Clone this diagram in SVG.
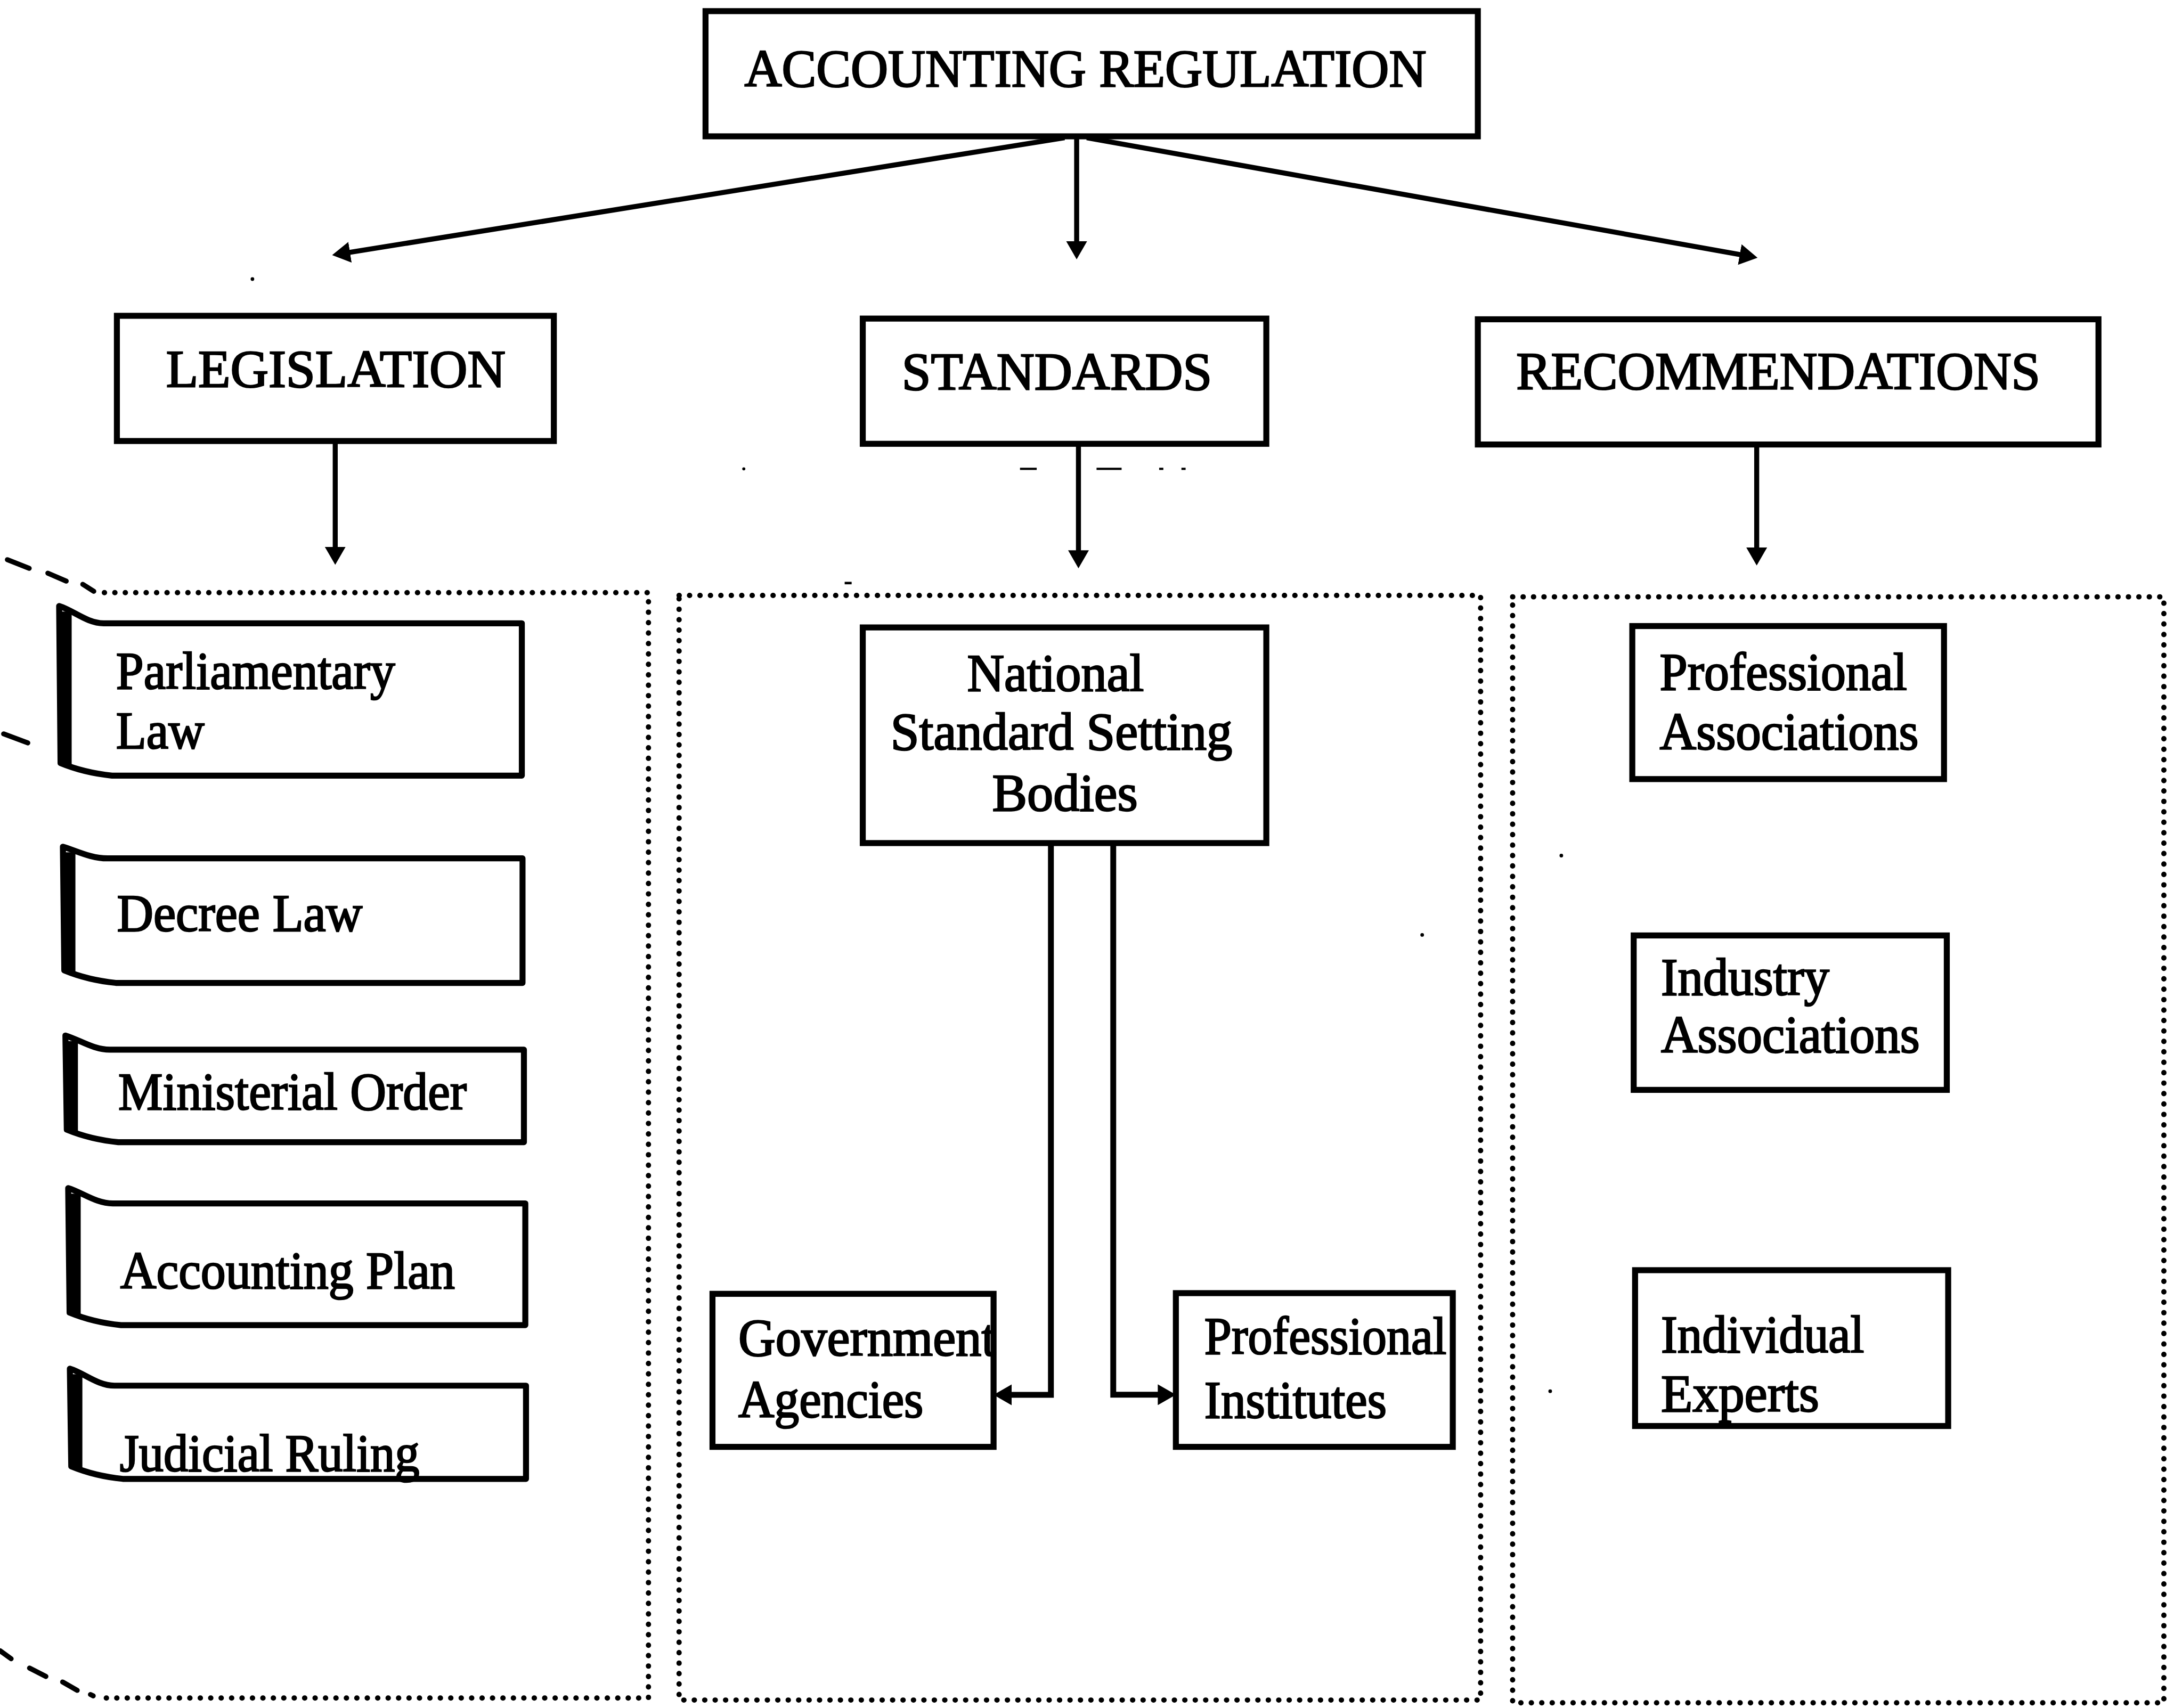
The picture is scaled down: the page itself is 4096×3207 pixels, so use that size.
<svg xmlns="http://www.w3.org/2000/svg" width="4096" height="3207" viewBox="0 0 4096 3207">
  <defs>
    <style>
      .box { fill: #fff; stroke: #000; stroke-width: 4.3; stroke-linejoin: miter; }
      .scroll { fill: #fff; stroke: #000; stroke-width: 4.3; stroke-linejoin: round; }
      .spine { fill: none; stroke: #000; stroke-width: 9; stroke-linecap: butt; }
      .lbl { font-family: "Liberation Serif", "Times New Roman", serif; font-size: 38px; fill: #000; stroke: #000; stroke-width: 1; }
      .conn { fill: none; stroke: #000; stroke-width: 3.6; }
      .elbow { fill: none; stroke: #000; stroke-width: 4.2; stroke-linejoin: miter; }
      .dots { fill: none; stroke: #000; stroke-width: 3.8; stroke-linecap: round; stroke-dasharray: 0.1 7.4; }
      .dash { fill: none; stroke: #000; stroke-width: 3.6; stroke-linecap: round; }
      .speck { fill: #000; }
    </style>
    <marker id="arrow" viewBox="0 0 13 15" markerWidth="13" markerHeight="15" refX="7" refY="7.5" orient="auto" markerUnits="userSpaceOnUse">
      <path d="M0,0 L13,7.5 L0,15 Z" fill="#000"/>
    </marker>
  </defs>

  <rect width="4096" height="3207" fill="#fff"/>

  <g transform="scale(2.6122)">

    <!-- dotted grouping frames -->
    <g id="frames">
      <path class="dots" d="M75,426 H466 V1220.5 H75"/>
      <rect class="dots" x="488" y="428" width="576" height="794"/>
      <rect class="dots" x="1087" y="429" width="468" height="795"/>
      <!-- curved fold of the left frame -->
      <line class="dash" x1="5.3" y1="402.3" x2="21" y2="408.5"/>
      <line class="dash" x1="34.4" y1="412" x2="47.6" y2="417.7"/>
      <line class="dash" x1="59.5" y1="420" x2="67.4" y2="425"/>
      <line class="dash" x1="2.6" y1="527.5" x2="20" y2="534"/>
      <line class="dash" x1="0" y1="1186.5" x2="8" y2="1192.3"/>
      <line class="dash" x1="21.2" y1="1199" x2="33" y2="1205"/>
      <line class="dash" x1="45" y1="1209" x2="55.5" y2="1215"/>
      <line class="dash" x1="65" y1="1218" x2="67" y2="1219"/>
    </g>

    <!-- connectors -->
    <g id="connectors">
      <path class="conn" d="M765,99 L244.6,182.45" marker-end="url(#arrow)"/>
      <path class="conn" d="M773.7,99 V180.4" marker-end="url(#arrow)"/>
      <path class="conn" d="M781,99 L1257.1,184.2" marker-end="url(#arrow)"/>
      <path class="conn" d="M240.9,317 V400" marker-end="url(#arrow)"/>
      <path class="conn" d="M775,320 V402.5" marker-end="url(#arrow)"/>
      <path class="conn" d="M1262.4,320 V400.5" marker-end="url(#arrow)"/>
      <path class="elbow" d="M755.2,606 V1002.6 H720" marker-end="url(#arrow)"/>
      <path class="elbow" d="M800,606 V1002.5 H839" marker-end="url(#arrow)"/>
    </g>

    <!-- top level -->
    <g id="accounting-regulation">
      <rect class="box" x="507" y="8" width="555" height="90"/>
      <text class="lbl" x="535" y="62" textLength="490" lengthAdjust="spacingAndGlyphs">ACCOUNTING REGULATION</text>
    </g>

    <!-- second level -->
    <g id="legislation">
      <rect class="box" x="84" y="227" width="314" height="90"/>
      <text class="lbl" x="119.3" y="278" textLength="244" lengthAdjust="spacingAndGlyphs">LEGISLATION</text>
    </g>
    <g id="standards">
      <rect class="box" x="620" y="229" width="290" height="90"/>
      <text class="lbl" x="648" y="280" textLength="223" lengthAdjust="spacingAndGlyphs">STANDARDS</text>
    </g>
    <g id="recommendations">
      <rect class="box" x="1062" y="229.5" width="446" height="90"/>
      <text class="lbl" x="1089.6" y="279.5" textLength="376.6" lengthAdjust="spacingAndGlyphs">RECOMMENDATIONS</text>
    </g>

    <!-- legislation sources (scroll shapes) -->
    <g id="parliamentary-law">
      <path class="scroll" d="M42.5,435.6 C52.5,438.6 62.5,448 74.5,448 H375 V557.5 H80.5 Q60.5,555.5 43.5,548.5 Z"/>
      <path class="spine" d="M47,439.6 V549.5"/>
      <text class="lbl" x="83.4" y="495" textLength="200.5" lengthAdjust="spacingAndGlyphs">Parliamentary</text>
      <text class="lbl" x="83.4" y="538" textLength="63.5" lengthAdjust="spacingAndGlyphs">Law</text>
    </g>
    <g id="decree-law">
      <path class="scroll" d="M45.2,608.6 C55.2,611.6 65.2,617 77.2,617 H375.5 V706.5 H83.2 Q63.2,704.5 46.2,697.5 Z"/>
      <path class="spine" d="M49.7,612.6 V698.5"/>
      <text class="lbl" x="84" y="669" textLength="176.4" lengthAdjust="spacingAndGlyphs">Decree Law</text>
    </g>
    <g id="ministerial-order">
      <path class="scroll" d="M47,744.3 C57,747.3 67,754.5 79,754.5 H376.5 V821 H85 Q65,819 48,812 Z"/>
      <path class="spine" d="M51.5,748.3 V813"/>
      <text class="lbl" x="85" y="797.4" textLength="250.4" lengthAdjust="spacingAndGlyphs">Ministerial Order</text>
    </g>
    <g id="accounting-plan">
      <path class="scroll" d="M49,854 C59,857 69,865 81,865 H377.5 V952.5 H87 Q67,950.5 50,943.5 Z"/>
      <path class="spine" d="M53.5,858 V944.5"/>
      <text class="lbl" x="86.4" y="926" textLength="240.5" lengthAdjust="spacingAndGlyphs">Accounting Plan</text>
    </g>
    <g id="judicial-ruling">
      <path class="scroll" d="M50.2,983.8 C60.2,986.8 70.2,996 82.2,996 H378 V1063 H88.2 Q68.2,1061 51.2,1054 Z"/>
      <path class="spine" d="M54.7,987.8 V1055"/>
      <text class="lbl" x="86" y="1057.5" textLength="215.5" lengthAdjust="spacingAndGlyphs">Judicial Ruling</text>
    </g>

    <!-- standard setters -->
    <g id="national-standard-setting-bodies">
      <rect class="box" x="620" y="451" width="290" height="155"/>
      <text class="lbl" x="695" y="496.6" textLength="127" lengthAdjust="spacingAndGlyphs">National</text>
      <text class="lbl" x="640" y="538.5" textLength="245.6" lengthAdjust="spacingAndGlyphs">Standard Setting</text>
      <text class="lbl" x="713" y="582.7" textLength="104.6" lengthAdjust="spacingAndGlyphs">Bodies</text>
    </g>
    <g id="government-agencies">
      <rect class="box" x="512" y="930" width="202" height="110"/>
      <text class="lbl" x="530.6" y="974.3" textLength="185" lengthAdjust="spacingAndGlyphs">Government</text>
      <text class="lbl" x="530.6" y="1018.7" textLength="133" lengthAdjust="spacingAndGlyphs">Agencies</text>
    </g>
    <g id="professional-institutes">
      <rect class="box" x="845" y="929.5" width="199" height="110.5"/>
      <text class="lbl" x="865.5" y="973" textLength="174" lengthAdjust="spacingAndGlyphs">Professional</text>
      <text class="lbl" x="865.5" y="1019" textLength="131" lengthAdjust="spacingAndGlyphs">Institutes</text>
    </g>

    <!-- recommending bodies -->
    <g id="professional-associations">
      <rect class="box" x="1173" y="450" width="224" height="110"/>
      <text class="lbl" x="1192.7" y="495.7" textLength="177.7" lengthAdjust="spacingAndGlyphs">Professional</text>
      <text class="lbl" x="1192.7" y="538.6" textLength="186" lengthAdjust="spacingAndGlyphs">Associations</text>
    </g>
    <g id="industry-associations">
      <rect class="box" x="1174" y="672.4" width="225" height="111"/>
      <text class="lbl" x="1193.6" y="715.2" textLength="121" lengthAdjust="spacingAndGlyphs">Industry</text>
      <text class="lbl" x="1193.6" y="756.5" textLength="186" lengthAdjust="spacingAndGlyphs">Associations</text>
    </g>
    <g id="individual-experts">
      <rect class="box" x="1175" y="913" width="225" height="112"/>
      <text class="lbl" x="1193.6" y="971.8" textLength="146" lengthAdjust="spacingAndGlyphs">Individual</text>
      <text class="lbl" x="1193.6" y="1014.6" textLength="113.7" lengthAdjust="spacingAndGlyphs">Experts</text>
    </g>

    <!-- small print specks -->
    <g id="specks">
      <circle class="speck" cx="181.4" cy="200.6" r="1.3"/>
      <circle class="speck" cx="534.5" cy="337" r="1.1"/>
      <rect class="speck" x="733" y="336.2" width="12" height="1.6"/>
      <rect class="speck" x="788" y="336.2" width="18" height="1.6"/>
      <rect class="speck" x="833" y="336.2" width="3" height="1.6"/>
      <rect class="speck" x="849" y="336.2" width="3" height="1.6"/>
      <rect class="speck" x="607" y="418.2" width="5" height="1.8"/>
      <circle class="speck" cx="1122" cy="615" r="1.3"/>
      <circle class="speck" cx="1022" cy="672" r="1.3"/>
      <circle class="speck" cx="1114" cy="1000" r="1.3"/>
    </g>
  </g>
</svg>
